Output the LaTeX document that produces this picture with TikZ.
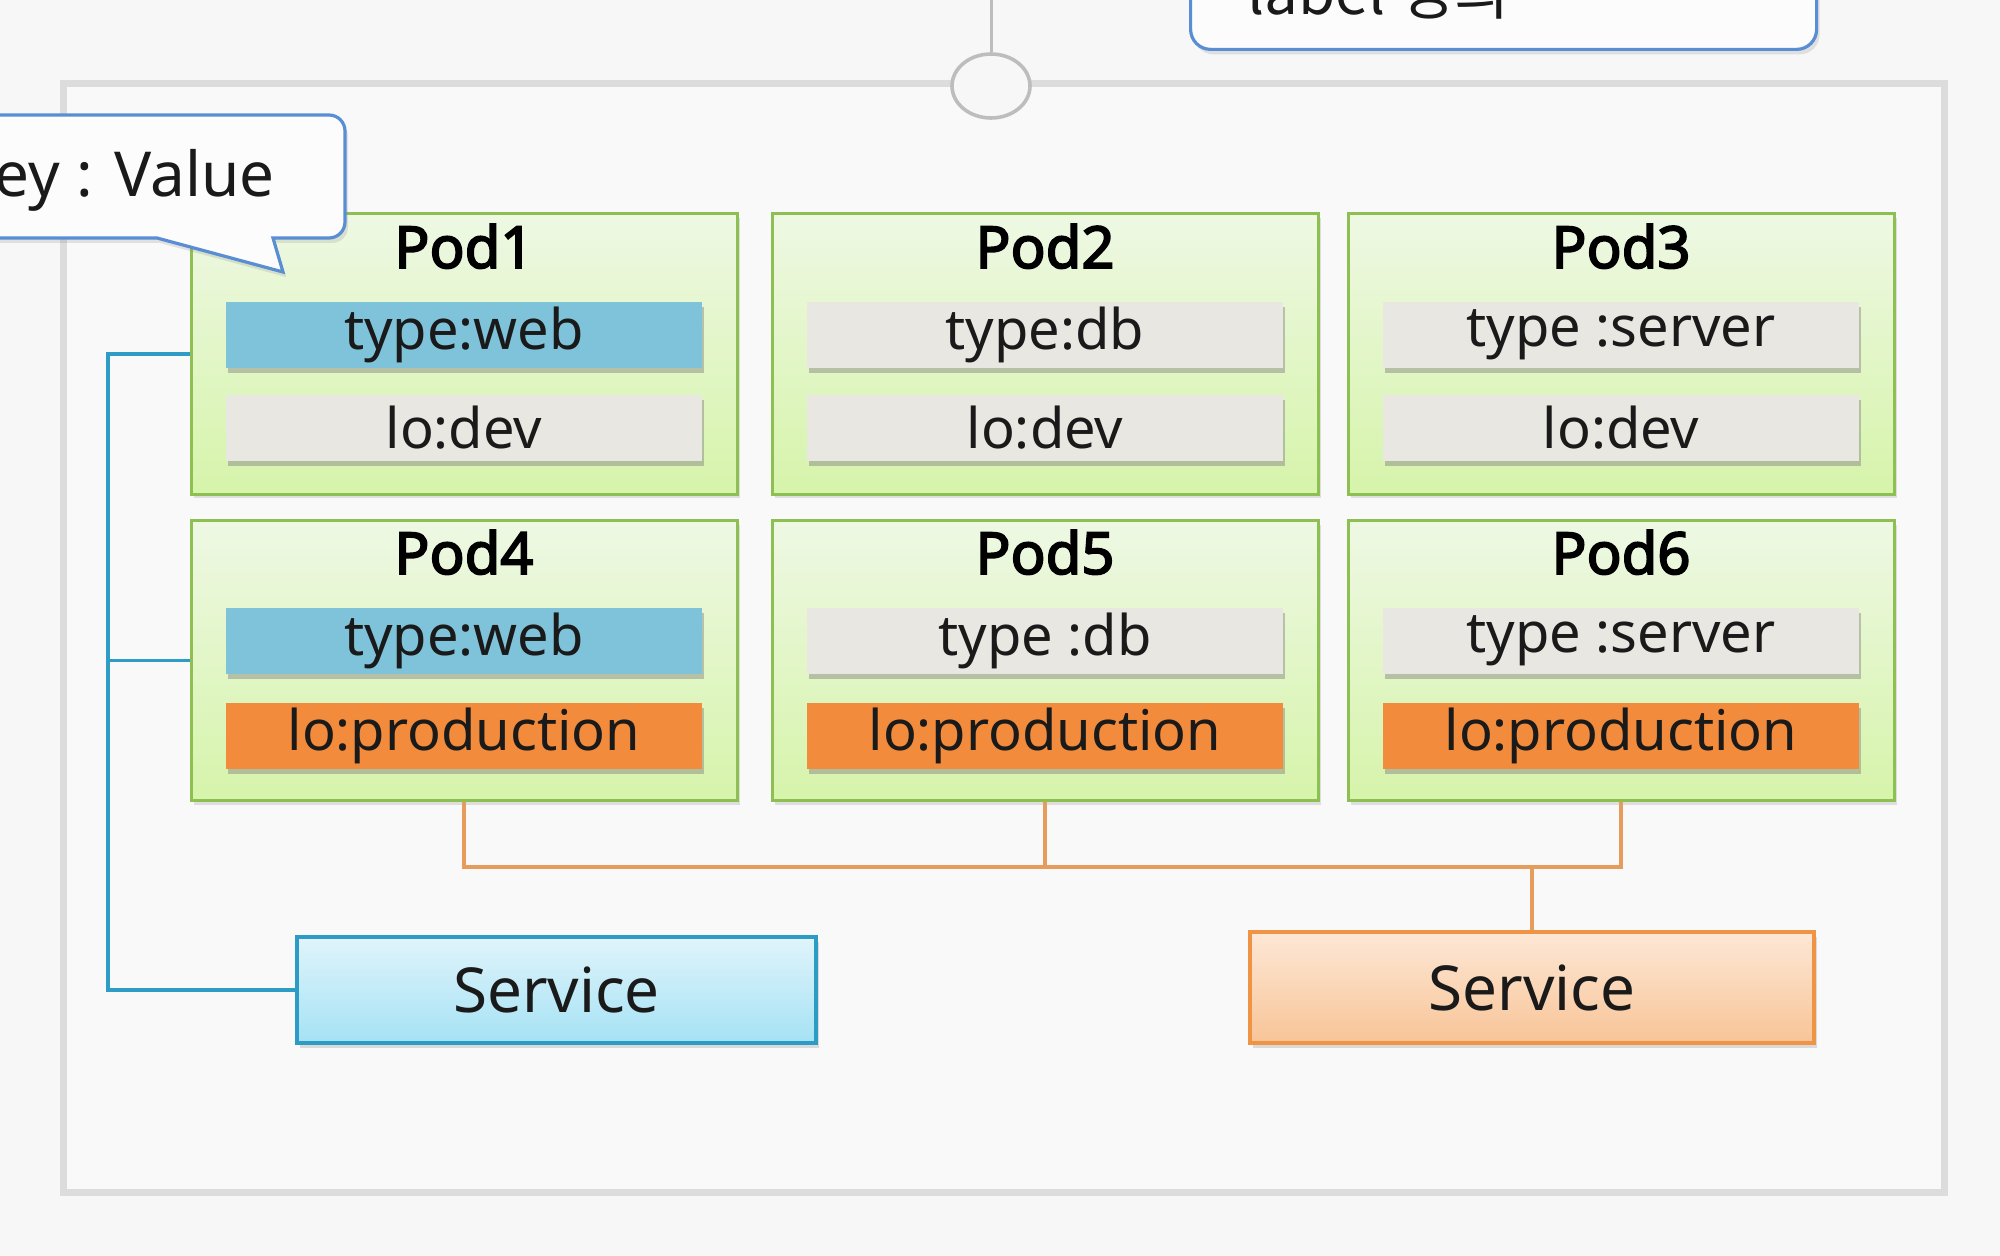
\documentclass[tikz,border=0pt]{standalone}
\usepackage{fontspec}
\setmainfont{Noto Sans}[AutoFakeBold=3]
\newfontfamily\krfont{Noto Sans CJK KR}
\usetikzlibrary{shadows,shapes.geometric}
\definecolor{bg}{HTML}{F7F7F7}
\definecolor{contfill}{HTML}{F9F9F9}
\definecolor{contline}{HTML}{DCDCDC}
\definecolor{circline}{HTML}{BDBDBD}
\definecolor{podborder}{HTML}{8DBF52}
\definecolor{podtop}{HTML}{EEF8E4}
\definecolor{podbot}{HTML}{D6F4AA}
\definecolor{webblue}{HTML}{7EC3DA}
\definecolor{graybar}{HTML}{E9E7E1}
\definecolor{orangebar}{HTML}{F28B3B}
\definecolor{blueline}{HTML}{2E9CC4}
\definecolor{orangeline}{HTML}{E69D5C}
\definecolor{svcbtop}{HTML}{E0F4FB}
\definecolor{svcbbot}{HTML}{A5E2F4}
\definecolor{svcbline}{HTML}{2D9CC4}
\definecolor{svcotop}{HTML}{FDE8D6}
\definecolor{svcobot}{HTML}{F8C497}
\definecolor{svcoline}{HTML}{EE9444}
\definecolor{callline}{HTML}{5A8ED4}
\definecolor{txt}{HTML}{1A1A1A}
\begin{document}
\begin{tikzpicture}[x=0.5pt,y=-0.5pt,
  container/.style={draw=contline, line width=3.5pt, fill=contfill, inner sep=0pt},
  pod/.style={draw=podborder, line width=1.5pt, top color=podtop, bottom color=podbot,
    minimum width=273pt, minimum height=140pt, inner sep=0pt,
    drop shadow={shadow xshift=1.5pt, shadow yshift=-2pt, opacity=0.22}},
  podtitle/.style={anchor=base, inner sep=0pt, text=black, font=\bfseries\fontsize{29}{34}\selectfont},
  bar/.style={minimum width=238pt, minimum height=33pt, inner sep=0pt, text=txt,
    font=\fontsize{28}{33}\selectfont,
    drop shadow={shadow xshift=0.8pt, shadow yshift=-2.5pt, opacity=0.45}},
  webbar/.style={bar, fill=webblue},
  plainbar/.style={bar, fill=graybar},
  prodbar/.style={bar, fill=orangebar},
  bline/.style={draw=blueline, line width=1.6pt},
  oline/.style={draw=orangeline, line width=1.6pt},
  svcblue/.style={draw=svcbline, line width=1.6pt, top color=svcbtop, bottom color=svcbbot,
    minimum width=259.5pt, minimum height=53pt, inner sep=0pt, text=txt,
    font=\fontsize{31}{36}\selectfont,
    drop shadow={shadow xshift=1.5pt, shadow yshift=-2.5pt, opacity=0.25}},
  svcorange/.style={draw=svcoline, line width=1.6pt, top color=svcotop, bottom color=svcobot,
    minimum width=282pt, minimum height=55.5pt, inner sep=0pt, text=txt,
    font=\fontsize{31}{36}\selectfont,
    drop shadow={shadow xshift=1.5pt, shadow yshift=-2.5pt, opacity=0.25}},
  calloutbox/.style={draw=callline, line width=1.6pt, fill=white!60!bg,
    drop shadow={shadow xshift=1.5pt, shadow yshift=-2.5pt, opacity=0.2}},
  gline/.style={draw=circline, line width=1.5pt}
]
\useasboundingbox[fill=bg] (0,0) rectangle (2000,1256);

% container
\node[container, minimum width=940.5pt, minimum height=554pt] (cont) at (1003.5,638) {};

% top connector and circle
\node[ellipse, draw=circline, line width=1.8pt, fill=bg, minimum width=39pt, minimum height=32pt, inner sep=0pt] (circ) at (991,86) {};
\coordinate (topend) at (991,-10);
\draw[gline] (topend) -- (circ.north);

% top callout (label definition)
\node[calloutbox, rounded corners=10pt, anchor=south west, minimum width=313pt, minimum height=60pt] (lblbox) at (1189,51) {};
\node[anchor=base west, inner sep=0pt, text=txt, font=\krfont\fontsize{30}{36}\selectfont] (lbltext) at (1247,15) {label 정의};

% pods
\node[pod] (p1) at (464,354) {};
\node[pod] (p2) at (1045,354) {};
\node[pod] (p3) at (1621,354) {};
\node[pod] (p4) at (464,660.5) {};
\node[pod] (p5) at (1045,660.5) {};
\node[pod] (p6) at (1621,660.5) {};

\node[podtitle] (t1) at (464,268) {Pod1};
\node[podtitle] (t2) at (1045,268) {Pod2};
\node[podtitle] (t3) at (1621,268) {Pod3};
\node[podtitle] (t4) at (464,574) {Pod4};
\node[podtitle] (t5) at (1045,574) {Pod5};
\node[podtitle] (t6) at (1621,574) {Pod6};

\node[webbar] (b1a) at (464,335) {type:web};
\node[plainbar] (b1b) at (464,428) {lo:dev};
\node[plainbar] (b2a) at (1045,335) {type:db};
\node[plainbar] (b2b) at (1045,428) {lo:dev};
\node[plainbar] (b3a) at (1621,335) {type :server};
\node[plainbar] (b3b) at (1621,428) {lo:dev};
\node[webbar] (b4a) at (464,641) {type:web};
\node[prodbar] (b4b) at (464,736) {lo:production};
\node[plainbar] (b5a) at (1045,641) {type :db};
\node[prodbar] (b5b) at (1045,736) {lo:production};
\node[plainbar] (b6a) at (1621,641) {type :server};
\node[prodbar] (b6b) at (1621,736) {lo:production};

% services
\node[svcblue] (svc1) at (556.5,990) {Service};
\node[svcorange] (svc2) at (1532,987.5) {Service};

% blue connector
\coordinate (bx) at (108,0);
\draw[bline] (p1.west) -- (p1.west -| bx) |- (svc1.west);
\draw[bline] (p4.west) -- (p4.west -| bx);

% orange connector
\coordinate (oy) at (0,867);
\draw[oline] (p4.south) |- (p6.south |- oy) -- (p6.south);
\draw[oline] (p5.south) -- (p5.south |- oy);
\draw[oline] (svc2.north |- oy) -- (svc2.north);

% key : value callout
\path[calloutbox] (-60,238) [rounded corners=8pt] -- (-60,115) -- (345,115) -- (345,238) [sharp corners] -- (273,238) -- (283,272) -- (157,238) -- cycle;
\node[anchor=base east, inner sep=0pt, text=txt, font=\fontsize{31}{36}\selectfont] (kv) at (275,197) {Key : Value};

\end{tikzpicture}
\end{document}
